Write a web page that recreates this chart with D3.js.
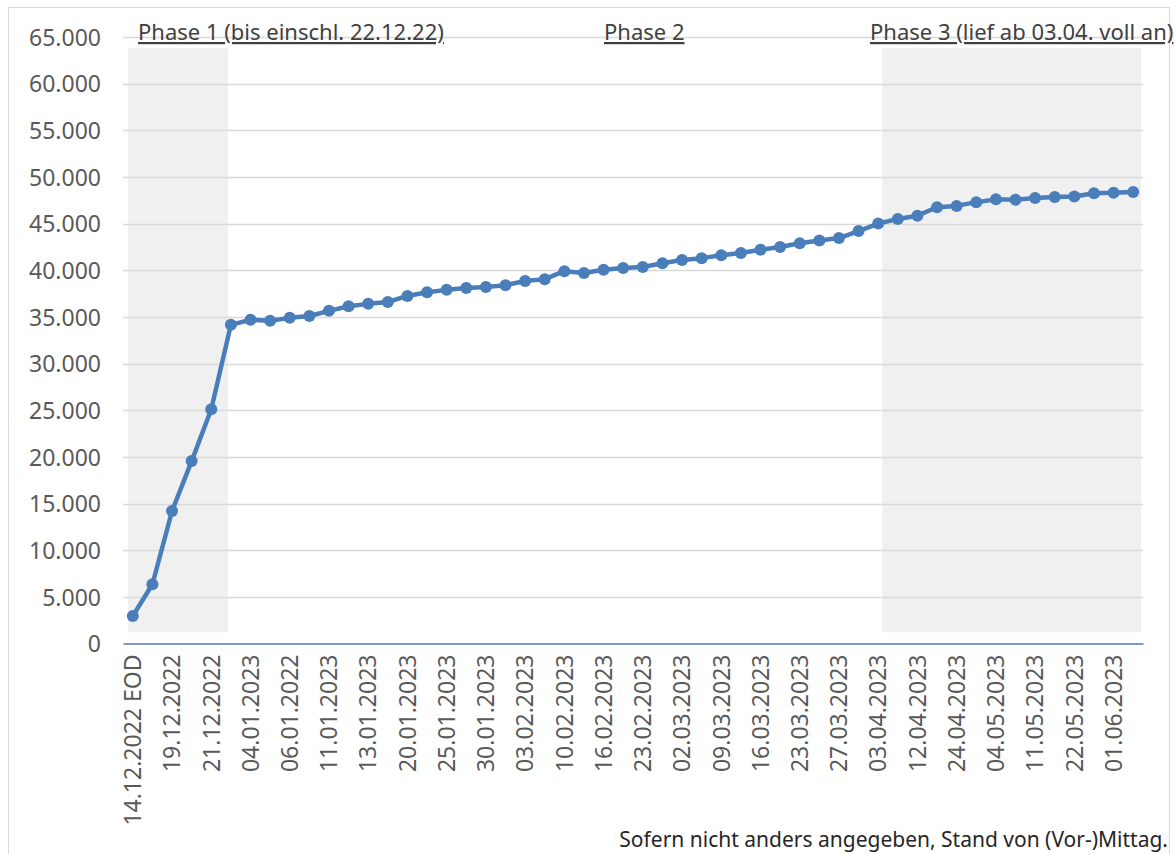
<!DOCTYPE html>
<html>
<head>
<meta charset="utf-8">
<script src="https://cdn.jsdelivr.net/npm/d3@7"></script>
<style>
  body { margin: 0; background: #fff; }
  text { font-family: "Noto Sans", sans-serif; }
</style>
</head>
<body>
<div class="canvas"></div>
<script>
// tick labels (every second category is labelled)
const tickLabels = [
  "14.12.2022 EOD", "19.12.2022", "21.12.2022", "04.01.2023", "06.01.2022",
  "11.01.2023", "13.01.2023", "20.01.2023", "25.01.2023", "30.01.2023",
  "03.02.2023", "10.02.2023", "16.02.2023", "23.02.2023", "02.03.2023",
  "09.03.2023", "16.03.2023", "23.03.2023", "27.03.2023", "03.04.2023",
  "12.04.2023", "24.04.2023", "04.05.2023", "11.05.2023", "22.05.2023",
  "01.06.2023"
];

// one value per category (52)
const values = [
  2950, 6350, 14200, 19550, 25100, 34150, 34700, 34600, 34900, 35100,
  35650, 36150, 36400, 36600, 37250, 37650, 37900, 38100, 38200, 38400,
  38850, 39050, 39900, 39700, 40050, 40250, 40350, 40750, 41100, 41300,
  41600, 41850, 42200, 42500, 42900, 43200, 43450, 44200, 45000, 45500,
  45850, 46750, 46900, 47300, 47600, 47550, 47750, 47850, 47900, 48250,
  48300, 48400
];

const yTicks = d3.range(0, 65001, 5000);

const phaseLabels = ["Phase 1 (bis einschl. 22.12.22)", "Phase 2", "Phase 3 (lief ab 03.04. voll an)"];

// dimensions
const W = 1176, H = 854;
const plot = { left: 123, right: 1143, top: 37, bottom: 643.5 };

const svg = d3.select(".canvas")
  .append("svg")
  .attr("width", W)
  .attr("height", H);

// chart border
svg.append("rect")
  .attr("x", 8.5).attr("y", 7.5)
  .attr("width", 1161).attr("height", 860)
  .attr("fill", "#fff")
  .attr("stroke", "#d9d9d9");

const x = d3.scaleBand()
  .domain(d3.range(values.length))
  .range([plot.left, plot.right])
  .padding(0);

const y = d3.scaleLinear()
  .domain([0, 65000])
  .range([plot.bottom, plot.top]);

const bw = x.bandwidth();
const cx = i => x(i) + bw / 2;

// shaded phases
const shades = [
  { x0: x(0) + 5, x1: x(4) + bw + 7 },
  { x0: cx(38) + 4, x1: x(51) + bw - 2 }
];
svg.append("g")
  .selectAll("rect")
  .data(shades)
  .enter()
  .append("rect")
  .attr("x", d => d.x0)
  .attr("width", d => d.x1 - d.x0)
  .attr("y", y(63800))
  .attr("height", y(1200) - y(63800))
  .attr("fill", "#f0f0f0");

// gridlines
svg.append("g")
  .selectAll("line")
  .data(yTicks.filter(t => t > 0))
  .enter()
  .append("line")
  .attr("x1", plot.left)
  .attr("x2", plot.right)
  .attr("y1", d => Math.round(y(d)) + 0.5)
  .attr("y2", d => Math.round(y(d)) + 0.5)
  .attr("stroke", "#d9d9d9")
  .attr("stroke-width", 1.3);

// y axis
const de = d3.formatLocale({ decimal: ",", thousands: ".", grouping: [3], currency: ["", " €"] });
const yAxis = d3.axisLeft(y)
  .tickValues(yTicks)
  .tickSize(0)
  .tickPadding(0)
  .tickFormat(de.format(",.0f"));

const yg = svg.append("g")
  .attr("transform", "translate(101,0)")
  .call(yAxis);
yg.select(".domain").remove();
yg.selectAll("text")
  .attr("fill", "#595959")
  .style("font-size", "23px")
  .attr("dy", "0.36em");

// x axis
const xAxis = d3.axisBottom(x)
  .tickValues(d3.range(0, values.length, 2))
  .tickSize(0)
  .tickFormat(i => tickLabels[i / 2]);

const xg = svg.append("g")
  .attr("transform", `translate(0,${plot.bottom})`)
  .call(xAxis);
xg.select(".domain")
  .attr("stroke", "#7f98bb")
  .attr("stroke-width", 1.8);
xg.selectAll("text")
  .attr("transform", "rotate(-90)")
  .attr("text-anchor", "end")
  .attr("x", -11)
  .attr("y", 0)
  .attr("dy", "0.36em")
  .attr("fill", "#595959")
  .style("font-size", "23px");

// line + markers
const line = d3.line()
  .x((d, i) => cx(i))
  .y(d => y(d));

svg.append("path")
  .datum(values)
  .attr("d", line)
  .attr("fill", "none")
  .attr("stroke", "#4a7ebb")
  .attr("stroke-width", 4.5)
  .attr("stroke-linejoin", "round");

svg.append("g")
  .selectAll("circle")
  .data(values)
  .enter()
  .append("circle")
  .attr("cx", (d, i) => cx(i))
  .attr("cy", d => y(d))
  .attr("r", 6)
  .attr("fill", "#4a7ebb");

// phase titles
const phasePos = [138, 604, 870];
svg.append("g")
  .selectAll("text")
  .data(phaseLabels)
  .enter()
  .append("text")
  .attr("x", (d, i) => phasePos[i])
  .attr("y", 40)
  .attr("fill", "#404040")
  .style("font-size", "22px")
  .style("text-decoration", "underline")
  .text(d => d);

// footnote
svg.append("text")
  .attr("x", 1168)
  .attr("y", 847)
  .attr("text-anchor", "end")
  .attr("fill", "#262626")
  .style("font-size", "21px")
  .text("Sofern nicht anders angegeben, Stand von (Vor-)Mittag.");
</script>
</body>
</html>
